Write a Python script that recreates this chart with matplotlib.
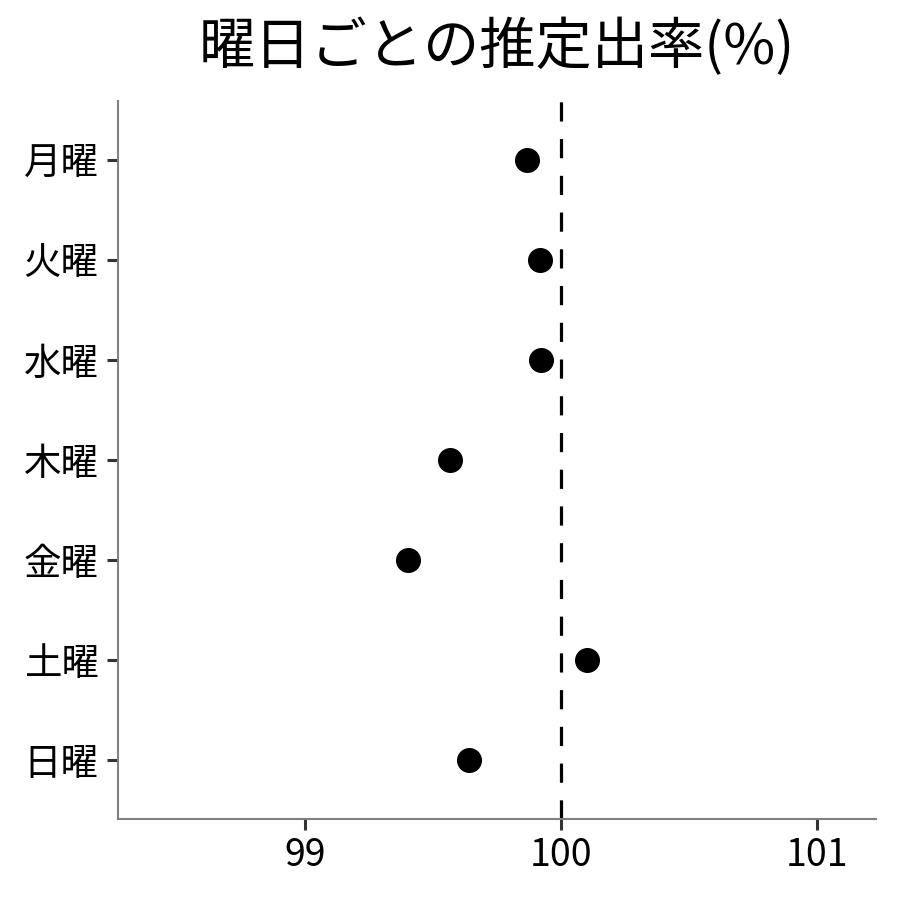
import matplotlib
matplotlib.use("Agg")
import matplotlib.pyplot as plt

plt.rcParams["font.family"] = ["Noto Sans CJK JP", "DejaVu Sans"]

days = ["月曜", "火曜", "水曜", "木曜", "金曜", "土曜", "日曜"]
rate = [99.867, 99.918, 99.922, 99.566, 99.402, 100.102, 99.641]
ref_line = 100
xticks = [99, 100, 101]

fig = plt.figure(figsize=(9, 9), dpi=100)
ax = fig.add_axes([0.1311, 0.09, 0.8422, 0.7978])

ypos = list(range(len(days), 0, -1))
ax.axvline(ref_line, color="black", lw=2.3, dashes=(6, 5.5), zorder=1)
ax.plot(rate, ypos, "o", color="black", ms=17, zorder=2)

ax.set_xlim(98.27, 101.23)
ax.set_ylim(0.41, len(days) + 0.59)
ax.set_yticks(ypos)
ax.set_yticklabels(days)
ax.set_xticks(xticks)
ax.set_xticklabels([str(t) for t in xticks])

for s in ["top", "right"]:
    ax.spines[s].set_visible(False)
for s in ["left", "bottom"]:
    ax.spines[s].set_color("#808080")
    ax.spines[s].set_linewidth(1.5)
ax.tick_params(axis="both", length=8, width=2.2, color="#333333",
               labelsize=27, labelcolor="black")
ax.tick_params(axis="y", pad=6)
ax.tick_params(axis="x", pad=4)

# title is centred over the panel, not the whole figure
fig.text(0.5522, 0.979, "曜日ごとの推定出率(%)", fontsize=40.5,
         ha="center", va="top")
fig.savefig("out.png", dpi=100)
